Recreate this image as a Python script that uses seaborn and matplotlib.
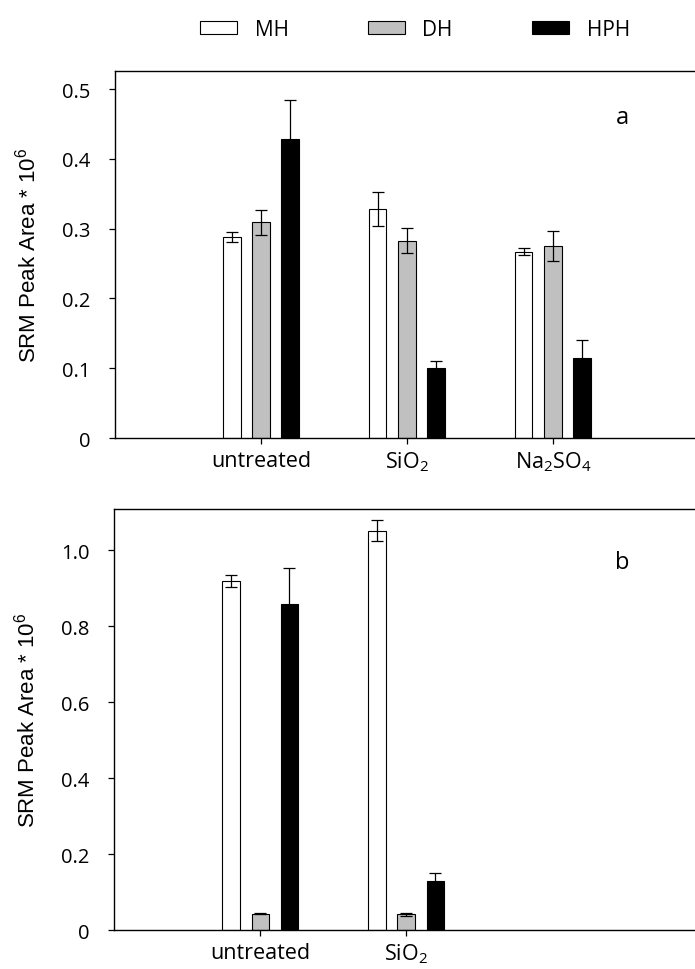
import pandas as pd
import matplotlib
matplotlib.use('Agg')
import matplotlib.pyplot as plt
from matplotlib.patches import Patch
import seaborn as sns

# dados (SRM peak area * 10^6)
hydrolysis = ['MH', 'DH', 'HPH']
colors = {'MH': 'white', 'DH': '#c0c0c0', 'HPH': 'black'}

treat_a = ['untreated', 'SiO2', 'Na2SO4']
mh_a = [0.288, 0.328, 0.267]
dh_a = [0.309, 0.283, 0.275]
hph_a = [0.429, 0.101, 0.114]
mh_a_err = [0.007, 0.024, 0.005]
dh_a_err = [0.018, 0.018, 0.021]
hph_a_err = [0.055, 0.009, 0.027]

treat_b = ['untreated', 'SiO2']
mh_b = [0.919, 1.051]
dh_b = [0.043, 0.041]
hph_b = [0.857, 0.128]
mh_b_err = [0.015, 0.028]
dh_b_err = [0.002, 0.003]
hph_b_err = [0.097, 0.023]

tick_labels = {'untreated': 'untreated', 'SiO2': 'SiO$_2$', 'Na2SO4': 'Na$_2$SO$_4$'}

sns.set_style('ticks')
plt.rcParams['font.family'] = ['Open Sans', 'DejaVu Sans']
plt.rcParams['mathtext.fontset'] = 'custom'
plt.rcParams['mathtext.rm'] = 'Open Sans'
plt.rcParams['mathtext.default'] = 'regular'
plt.rcParams['axes.linewidth'] = 1.0
# tudo em preto como no original
plt.rcParams['text.color'] = 'black'
plt.rcParams['axes.labelcolor'] = 'black'
plt.rcParams['axes.edgecolor'] = 'black'
plt.rcParams['xtick.color'] = 'black'
plt.rcParams['ytick.color'] = 'black'


def make_df(treat, mh, dh, hph):
    rows = []
    for name, vals in zip(hydrolysis, [mh, dh, hph]):
        for t, v in zip(treat, vals):
            rows.append({'treatment': t, 'hydrolysis': name, 'area': v})
    return pd.DataFrame(rows)


def draw_panel(ax, treat, mh, dh, hph, errs, ylim, yticks, letter):
    df = make_df(treat, mh, dh, hph)
    sns.barplot(data=df, x='treatment', y='area', hue='hydrolysis',
                order=treat, hue_order=hydrolysis, palette=colors,
                saturation=1, width=0.6, gap=0.4, errorbar=None,
                edgecolor='black', linewidth=0.8, legend=False, ax=ax)
    # barras de erro a partir dos retangulos desenhados
    for cont, err in zip(ax.containers, errs):
        xs = [p.get_x() + p.get_width() / 2 for p in cont]
        hs = [p.get_height() for p in cont]
        ax.errorbar(xs, hs, yerr=err, fmt='none', ecolor='black',
                    elinewidth=0.9, capsize=4.3, capthick=0.9)
    ax.set_xlim(-1, 3)
    ax.set_ylim(0, ylim)
    ax.set_yticks(yticks)
    ax.set_yticklabels(['0'] + ['%.1f' % v for v in yticks[1:]], fontsize=14.5)
    ax.set_xticks(range(len(treat)))
    ax.set_xticklabels([tick_labels[t] for t in treat], fontsize=15.5)
    ax.set_xlabel('')
    ax.set_ylabel('SRM Peak Area * 10$^{6}$', family='Liberation Sans', fontsize=16)
    ax.yaxis.set_label_coords(-0.128, 0.5)
    ax.tick_params(axis='both', direction='out', length=4.5, width=0.9)
    ax.tick_params(axis='y', pad=13.5)
    ax.tick_params(axis='x', pad=4)
    ax.spines['right'].set_visible(False)
    ax.text(0.87, 0.875, letter, transform=ax.transAxes, fontsize=17,
            ha='center', va='center')


fig = plt.figure(figsize=(6.95, 9.70), dpi=100)
ax1 = fig.add_axes([0.1655, 0.5474, 0.840, 0.3784])
ax2 = fig.add_axes([0.1645, 0.0402, 0.840, 0.4340])

draw_panel(ax1, treat_a, mh_a, dh_a, hph_a, [mh_a_err, dh_a_err, hph_a_err],
           0.526, [0, 0.1, 0.2, 0.3, 0.4, 0.5], 'a')
draw_panel(ax2, treat_b, mh_b, dh_b, hph_b, [mh_b_err, dh_b_err, hph_b_err],
           1.108, [0, 0.2, 0.4, 0.6, 0.8, 1.0], 'b')

handles = [Patch(facecolor=colors[h], edgecolor='black', linewidth=0.8, label=h)
           for h in hydrolysis]
fig.legend(handles=handles, loc='center', bbox_to_anchor=(0.597, 0.969), ncol=3,
           frameon=False, fontsize=15, handlelength=1.78, handleheight=0.58,
           handletextpad=0.85, columnspacing=3.8)

plt.savefig('out.png', dpi=100)
